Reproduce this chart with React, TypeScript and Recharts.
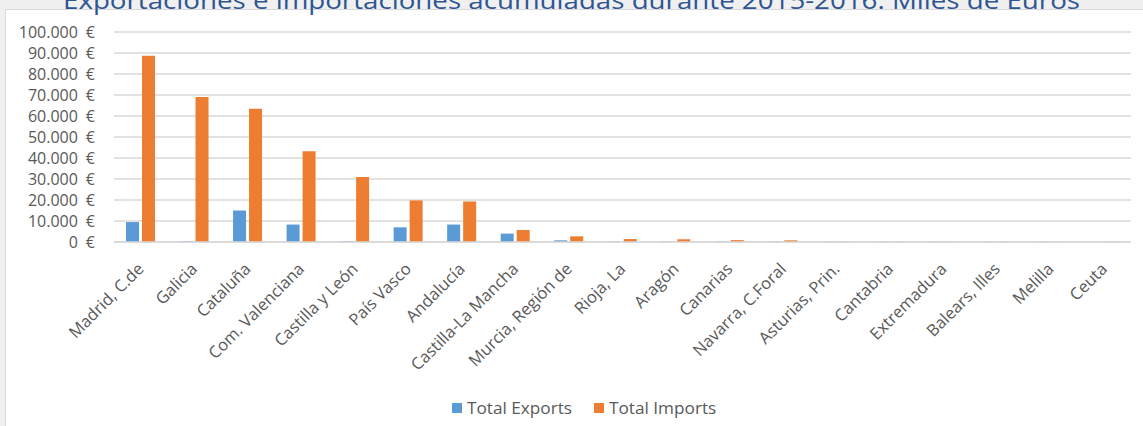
import React from 'react';
import { BarChart, Bar, XAxis, YAxis, CartesianGrid } from 'recharts';

const categories = [
  'Madrid, C.de', 'Galicia', 'Cataluña', 'Com. Valenciana', 'Castilla y León', 'País Vasco',
  'Andalucía', 'Castilla-La Mancha', 'Murcia, Región de', 'Rioja, La', 'Aragón', 'Canarias',
  'Navarra, C.Foral', 'Asturias, Prin.', 'Cantabria', 'Extremadura', 'Balears, Illes', 'Melilla', 'Ceuta',
];
const totalExports = [9500, 300, 15000, 8300, 300, 7000, 8300, 4000, 800, 250, 200, 200, 200, 150, 150, 150, 150, 150, 0];
const totalImports = [88700, 69000, 63400, 43200, 30900, 19800, 19300, 5700, 2700, 1400, 1300, 900, 800, 200, 150, 150, 150, 100, 150];
const yTicks = [0, 10000, 20000, 30000, 40000, 50000, 60000, 70000, 80000, 90000, 100000];
const seriesNames = ['Total Exports', 'Total Imports'];
const title = 'Exportaciones e importaciones acumuladas durante 2015-2016. Miles de Euros';

const BLUE = '#5B9BD5';
const ORANGE = '#ED7D31';
const TEXT = '#595959';
const FONT = '"Open Sans", "Noto Sans", sans-serif';

const data = categories.map((c, i) => ({ name: c, exp: totalExports[i], imp: totalImports[i] }));

const fmt = (v: number) => String(v).replace(/\B(?=(\d{3})+(?!\d))/g, '.') + '\u2002€';

const XTick = (props: any) => {
  const { x, y, payload } = props;
  return (
    <g transform={`translate(${x + 4},${y + 28})`}>
      <text x={0} y={0} textAnchor="end" transform="rotate(-45)" fill={TEXT} fontSize={16.5} fontFamily={FONT}>
        {payload.value}
      </text>
    </g>
  );
};

export default function App() {
  return (
    <div style={{ position: 'absolute', left: 0, top: 0, width: 1143, height: 426, background: '#f0f0f0', overflow: 'hidden' }}>
      <div style={{ position: 'absolute', left: 5, top: 9, width: 1138, height: 417, background: '#fff', borderTop: '1px solid #d9d9d9', borderLeft: '1px solid #d9d9d9' }} />
      <svg style={{ position: 'absolute', left: 0, top: 0 }} width={1143} height={20}>
        <text x={63} y={8.5} textLength={1017} lengthAdjust="spacingAndGlyphs" fill="#2E5593" fontSize={24} fontFamily={FONT}>
          {title}
        </text>
      </svg>
      <div style={{ position: 'absolute', left: 0, top: 0 }}>
        <BarChart width={1143} height={426} data={data} margin={{ top: 32, right: 12, bottom: 84, left: 0 }} barSize={13} barGap={3}>
          <CartesianGrid vertical={false} stroke="#d9d9d9" strokeWidth={1.3} />
          <XAxis dataKey="name" interval={0} height={100} tickSize={0} tickMargin={0} tickLine={false}
            axisLine={{ stroke: '#d9d9d9', strokeWidth: 1.5 }} tick={<XTick />} />
          <YAxis width={114} domain={[0, 100000]} ticks={yTicks} interval={0} tickFormatter={fmt} axisLine={false} tickLine={false}
            tickSize={0} tickMargin={19} tick={{ fill: TEXT, fontSize: 16, fontFamily: FONT }} />
          <Bar dataKey="exp" name={seriesNames[0]} fill={BLUE} isAnimationActive={false} />
          <Bar dataKey="imp" name={seriesNames[1]} fill={ORANGE} isAnimationActive={false} />
        </BarChart>
      </div>
      <div style={{ position: 'absolute', left: 452, top: 396, display: 'flex', alignItems: 'center', fontFamily: FONT, fontSize: 17.2, color: TEXT, whiteSpace: 'nowrap' }}>
        <span style={{ width: 10, height: 10, background: BLUE, display: 'inline-block', marginRight: 5 }} />
        <span>{seriesNames[0]}</span>
        <span style={{ width: 10, height: 10, background: ORANGE, display: 'inline-block', marginLeft: 22, marginRight: 5 }} />
        <span>{seriesNames[1]}</span>
      </div>
    </div>
  );
}
